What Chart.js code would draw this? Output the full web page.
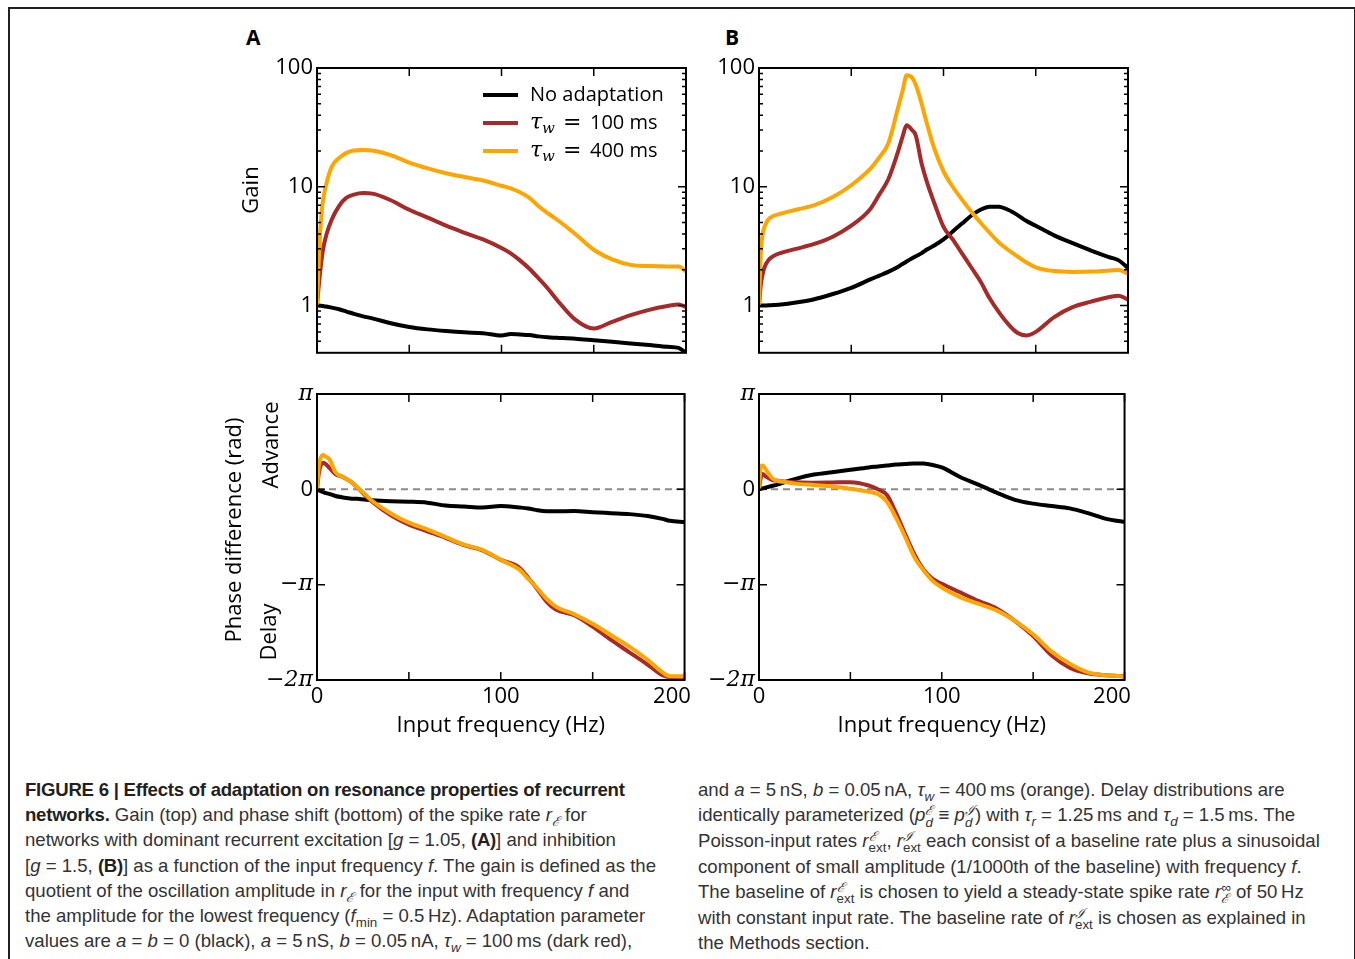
<!DOCTYPE html>
<html>
<head>
<meta charset="utf-8">
<script src="https://cdn.jsdelivr.net/npm/chart.js@4.4.1/dist/chart.umd.min.js"></script>
<style>
body { margin: 0; background: #fff; width: 1355px; height: 959px; overflow: hidden; position: relative; }
#frame { position: absolute; left: 8px; top: 7px; width: 1347px; height: 1000px; box-sizing: border-box;
         border-top: 2px solid #231f20; border-left: 2px solid #231f20; border-right: 1px solid #231f20; }
canvas { position: absolute; }
.panel { position: absolute; font: bold 21px "Open Sans", sans-serif; line-height: 24px; color: #000; }
.cap { position: absolute; top: 777px; font-family: "Liberation Sans Narrow", "Liberation Sans", sans-serif;
       font-size: 18.6px; line-height: 25.2px; color: #333; white-space: nowrap; }
.cap b { color: #231f20; letter-spacing: -0.25px; }
.cap sub, .cap sup { font-size: 0.72em; line-height: 0; }
.st { display: inline-block; vertical-align: -0.4em; font-size: 0.72em; line-height: 0.85; }
</style>
</head>
<body>
<div id="frame"></div>
<div class="panel" style="left:246px;top:25px">A</div>
<div class="panel" style="left:725px;top:25px">B</div>

<canvas id="gainA" width="520" height="330" style="left:200px;top:40px"></canvas>
<canvas id="gainB" width="460" height="330" style="left:700px;top:40px"></canvas>
<canvas id="phaseA" width="520" height="385" style="left:200px;top:375px"></canvas>
<canvas id="phaseB" width="460" height="385" style="left:700px;top:375px"></canvas>

<div class="cap" style="left:25px">
<b>FIGURE 6 | Effects of adaptation on resonance properties of recurrent</b><br>
<b>networks.</b> Gain (top) and phase shift (bottom) of the spike rate <i>r</i><sub><i>ℰ</i></sub> for<br>
networks with dominant recurrent excitation [<i>g</i> = 1.05, <b>(A)</b>] and inhibition<br>
[<i>g</i> = 1.5, <b>(B)</b>] as a function of the input frequency <i>f</i>. The gain is defined as the<br>
quotient of the oscillation amplitude in <i>r</i><sub><i>ℰ</i></sub> for the input with frequency <i>f</i> and<br>
the amplitude for the lowest frequency (<i>f</i><sub>min</sub> = 0.5&#8201;Hz). Adaptation parameter<br>
values are <i>a</i> = <i>b</i> = 0 (black), <i>a</i> = 5&#8201;nS, <i>b</i> = 0.05&#8201;nA, <i>τ</i><sub><i>w</i></sub> = 100&#8201;ms (dark red),
</div>
<div class="cap" style="left:698px">
and <i>a</i> = 5&#8201;nS, <i>b</i> = 0.05&#8201;nA, <i>τ</i><sub><i>w</i></sub> = 400&#8201;ms (orange). Delay distributions are<br>
identically parameterized (<i>p</i><span class="st"><i>ℰ</i><br><i>d</i></span> ≡ <i>p</i><span class="st"><i>ℐ</i><br><i>d</i></span>) with <i>τ</i><sub><i>r</i></sub> = 1.25&#8201;ms and <i>τ</i><sub><i>d</i></sub> = 1.5&#8201;ms. The<br>
Poisson-input rates <i>r</i><span class="st"><i>ℰ</i><br>ext</span>, <i>r</i><span class="st"><i>ℐ</i><br>ext</span> each consist of a baseline rate plus a sinusoidal<br>
component of small amplitude (1/1000th of the baseline) with frequency <i>f</i>.<br>
The baseline of <i>r</i><span class="st"><i>ℰ</i><br>ext</span> is chosen to yield a steady-state spike rate <i>r</i><span class="st">∞<br><i>ℰ</i></span> of 50&#8201;Hz<br>
with constant input rate. The baseline rate of <i>r</i><span class="st"><i>ℐ</i><br>ext</span> is chosen as explained in<br>
the Methods section.
</div>

<script>
var FONT = '"Open Sans", "DejaVu Sans", sans-serif'
var MATH = '"DejaVu Serif", "Liberation Serif", serif'

var black = '#000000'
var darkred = '#a52a2a'
var orange = '#ffa500'
var dashGray = '#8a8a8a'

var seriesLabels = ['No adaptation', 'τw = 100 ms', 'τw = 400 ms']
var xTitle = 'Input frequency (Hz)'
var xTickValues = [0, 50, 100, 150, 200]
var gainTickValues = [1, 10, 100]
var gainMinorTicks = [0.5, 0.6, 0.7, 0.8, 0.9, 2, 3, 4, 5, 6, 7, 8, 9, 20, 30, 40, 50, 60, 70, 80, 90]
// phase is in units of pi
var phaseTickValues = [-2, -1, 0, 1]
var phaseTickText = ['\u22122\u03c0', '\u2212\u03c0', '0', '\u03c0']

// (A) gain
var freqGainA = [0, 1, 2, 3, 5, 8, 12, 16, 20, 25, 30, 40, 50, 60, 70, 80, 90, 100, 105, 110,
                 115, 120, 125, 130, 140, 150, 160, 170, 180, 190, 196, 200]
var gainA_none = [1.0, 1.0, 0.995, 0.99, 0.98, 0.96, 0.93, 0.89, 0.85, 0.81, 0.78, 0.71, 0.66, 0.63, 0.61, 0.595, 0.585, 0.56, 0.575, 0.57,
                  0.565, 0.55, 0.54, 0.535, 0.525, 0.51, 0.495, 0.48, 0.465, 0.45, 0.44, 0.40]
var gainA_100 = [1, 1.5, 2.1, 2.8, 3.9, 5.3, 6.9, 8.1, 8.6, 8.85, 8.75, 7.7, 6.4, 5.5, 4.7, 4.1, 3.6, 3.05, 2.75, 2.4,
                 2.05, 1.7, 1.4, 1.12, 0.76, 0.64, 0.73, 0.83, 0.92, 0.99, 1.02, 0.97]
var gainA_400 = [1, 2.5, 4.8, 7.2, 10.5, 14.8, 17.5, 19.3, 20.2, 20.4, 20.2, 18.5, 16.0, 14.3, 13.0, 12.1, 11.3, 10.2, 9.7, 9.0,
                 8.1, 6.9, 6.0, 5.3, 4.0, 2.95, 2.45, 2.2, 2.15, 2.13, 2.13, 1.94]

// (B) gain
var freqGainB = [0, 1, 2, 3, 5, 8, 12, 20, 30, 40, 50, 60, 65, 70, 75, 78, 80, 83, 85, 88,
                 91, 95, 100, 105, 110, 115, 120, 125, 130, 135, 140, 145, 150, 160, 170, 180, 190, 195, 200]
var gainB_none = [1, 1, 1, 1, 1.005, 1.01, 1.02, 1.06, 1.13, 1.25, 1.41, 1.65, 1.78, 1.92, 2.1, 2.25, 2.35, 2.5, 2.6, 2.75,
                  2.96, 3.2, 3.6, 4.2, 4.9, 5.7, 6.4, 6.8, 6.8, 6.4, 5.8, 5.15, 4.7, 3.9, 3.35, 2.9, 2.55, 2.4, 2.07]
var gainB_100 = [1, 1.5, 1.85, 2.1, 2.4, 2.62, 2.78, 3.0, 3.3, 3.8, 4.7, 6.4, 8.5, 11.5, 19, 27, 33, 30, 27, 16,
                 11, 7.3, 4.6, 3.6, 2.75, 2.1, 1.6, 1.15, 0.88, 0.7, 0.59, 0.56, 0.6, 0.8, 0.97, 1.08, 1.18, 1.21, 1.12]
var gainB_400 = [1, 2.8, 4.0, 4.6, 5.3, 5.7, 5.95, 6.4, 7.0, 8.2, 10.3, 14, 17.5, 23, 44, 66, 87, 83, 72, 51,
                 34, 21, 13.5, 10, 7.8, 6.2, 5.0, 4.1, 3.4, 2.95, 2.6, 2.3, 2.1, 1.95, 1.92, 1.93, 1.97, 1.99, 1.86]

// (A) phase
var freqPhaseA = [0, 1, 2, 3.5, 5, 7, 10, 14, 18, 22, 26, 30, 40, 50, 60, 70, 80, 90, 100, 110,
                  115, 120, 125, 130, 140, 150, 160, 170, 180, 188, 192, 200]
var phaseA_none = [0, -0.01, -0.02, -0.03, -0.04, -0.05, -0.07, -0.085, -0.095, -0.1, -0.108, -0.115, -0.125, -0.13, -0.14, -0.17, -0.18, -0.19, -0.175, -0.19,
                   -0.2, -0.22, -0.23, -0.23, -0.228, -0.24, -0.25, -0.26, -0.28, -0.31, -0.33, -0.343]
var phaseA_100 = [0, 0.17, 0.25, 0.28, 0.26, 0.22, 0.16, 0.13, 0.085, 0.02, -0.06, -0.13, -0.27, -0.37, -0.44, -0.51, -0.585, -0.64, -0.74, -0.82,
                  -0.93, -1.05, -1.18, -1.26, -1.32, -1.44, -1.58, -1.71, -1.84, -1.95, -1.97, -1.97]
var phaseA_400 = [0, 0.25, 0.33, 0.36, 0.34, 0.31, 0.18, 0.13, 0.085, 0.02, -0.05, -0.12, -0.25, -0.35, -0.42, -0.50, -0.58, -0.635, -0.74, -0.84,
                  -0.94, -1.04, -1.15, -1.23, -1.31, -1.41, -1.53, -1.65, -1.79, -1.92, -1.96, -1.96]

// (B) phase
var freqPhaseB = [0, 1, 2, 4, 7, 10, 15, 20, 30, 40, 50, 60, 65, 70, 75, 80, 85, 90, 95, 100,
                  110, 120, 130, 140, 150, 160, 170, 180, 190, 200]
var phaseB_none = [0, 0.005, 0.01, 0.02, 0.035, 0.05, 0.08, 0.11, 0.155, 0.18, 0.205, 0.23, 0.24, 0.25, 0.26, 0.265, 0.272, 0.27, 0.255, 0.23,
                   0.13, 0.05, -0.035, -0.11, -0.15, -0.175, -0.2, -0.25, -0.31, -0.343]
var phaseB_100 = [0, 0.12, 0.16, 0.13, 0.1, 0.09, 0.08, 0.075, 0.07, 0.072, 0.075, 0.04, 0.0, -0.06, -0.25, -0.47, -0.68, -0.84, -0.94, -0.99,
                  -1.08, -1.17, -1.25, -1.38, -1.54, -1.74, -1.87, -1.93, -1.95, -1.96]
var phaseB_400 = [0, 0.24, 0.25, 0.2, 0.12, 0.09, 0.075, 0.06, 0.045, 0.03, 0.007, -0.025, -0.05, -0.13, -0.3, -0.5, -0.71, -0.85, -0.96, -1.03,
                  -1.13, -1.2, -1.27, -1.38, -1.52, -1.7, -1.83, -1.92, -1.95, -1.96]

var zeroLineX = [0, 200]
var zeroLineY = [0, 0]

Chart.defaults.font.family = FONT
Chart.defaults.color = '#000'

function pts(xs, ys) {
    var out = []
    for (var i = 0; i < xs.length; i++) {
        out.push({x: xs[i], y: ys[i]})
    }
    return out
}

function curve(label, color, xs, ys, order) {
    return {
        label: label,
        data: pts(xs, ys),
        borderColor: color,
        borderWidth: 4,
        borderJoinStyle: 'round',
        pointRadius: 0,
        cubicInterpolationMode: 'monotone',
        fill: false,
        order: order
    }
}

function zeroLine() {
    return {
        label: '',
        data: pts(zeroLineX, zeroLineY),
        borderColor: dashGray,
        borderWidth: 2,
        borderDash: [7, 5],
        pointRadius: 0,
        fill: false,
        order: 5
    }
}

// box around the axes with matplotlib style inward ticks
var frameTicks = {
    id: 'frameTicks',
    afterDatasetsDraw: function(chart, args, opts) {
        var ctx = chart.ctx
        var a = chart.chartArea
        var xs = chart.scales.x
        var ys = chart.scales.y
        var minor = opts.yMinor || []
        ctx.save()
        ctx.strokeStyle = '#000'
        ctx.lineWidth = 1.5
        ctx.beginPath()
        xTickValues.forEach(function(v) {
            var px = xs.getPixelForValue(v)
            ctx.moveTo(px, a.bottom)
            ctx.lineTo(px, a.bottom - 8)
            ctx.moveTo(px, a.top)
            ctx.lineTo(px, a.top + 8)
        })
        opts.yMajor.forEach(function(v) {
            var py = ys.getPixelForValue(v)
            ctx.moveTo(a.left, py)
            ctx.lineTo(a.left + 8, py)
            ctx.moveTo(a.right, py)
            ctx.lineTo(a.right - 8, py)
        })
        minor.forEach(function(v) {
            var py = ys.getPixelForValue(v)
            ctx.moveTo(a.left, py)
            ctx.lineTo(a.left + 4, py)
            ctx.moveTo(a.right, py)
            ctx.lineTo(a.right - 4, py)
        })
        ctx.stroke()
        ctx.lineWidth = 2
        ctx.strokeRect(a.left, a.top, a.right - a.left, a.bottom - a.top)
        ctx.restore()
    }
}

// rotated axis labels (Gain, Phase difference, Advance / Delay)
var sideText = {
    id: 'sideText',
    afterDraw: function(chart, args, opts) {
        var ctx = chart.ctx
        ctx.save()
        ctx.fillStyle = '#000'
        ctx.textAlign = 'center'
        ctx.textBaseline = 'middle'
        ctx.font = '22px ' + FONT
        opts.items.forEach(function(it) {
            ctx.save()
            ctx.translate(it.x, it.y)
            ctx.rotate(-Math.PI / 2)
            ctx.fillText(it.text, 0, 0)
            ctx.restore()
        })
        ctx.restore()
    }
}

var sketchLegend = {
    id: 'sketchLegend',
    afterDraw: function(chart, args, opts) {
        if (!opts.show) return
        var ctx = chart.ctx
        ctx.save()
        ctx.textBaseline = 'middle'
        ctx.fillStyle = '#000'
        for (var i = 0; i < seriesLabels.length; i++) {
            var ds = chart.data.datasets.filter(function(d) { return d.label == seriesLabels[i] })[0]
            var y = opts.y + i * opts.step
            ctx.strokeStyle = ds.borderColor
            ctx.lineWidth = 4
            ctx.beginPath()
            ctx.moveTo(opts.x, y)
            ctx.lineTo(opts.x + 35, y)
            ctx.stroke()
            var tx = opts.x + 47
            if (ds.label.indexOf('τw') == 0) {
                ctx.font = 'italic 22px ' + MATH
                ctx.fillText('τ', tx, y)
                ctx.font = 'italic 15px ' + MATH
                ctx.fillText('w', tx + 12, y + 6)
                ctx.font = '22px ' + MATH
                ctx.fillText('=', tx + 33, y)
                ctx.font = '20px ' + FONT
                ctx.fillText(ds.label.split('= ')[1], tx + 60, y)
            } else {
                ctx.font = '20px ' + FONT
                ctx.fillText(ds.label, tx, y)
            }
        }
        ctx.restore()
    }
}

function gainAxis(width) {
    return {
        type: 'logarithmic', min: 0.4, max: 100,
        grid: {display: false, drawTicks: false},
        border: {display: false},
        afterBuildTicks: function(s) { s.ticks = gainTickValues.map(function(v) { return {value: v} }) },
        afterFit: function(s) { s.width = width },
        ticks: {padding: 4, font: {size: 22}, color: '#000', callback: function(v) { return String(v) }}
    }
}

function phaseAxis(width) {
    return {
        type: 'linear', min: -2, max: 1,
        grid: {display: false, drawTicks: false},
        border: {display: false},
        afterBuildTicks: function(s) { s.ticks = phaseTickValues.map(function(v) { return {value: v} }) },
        afterFit: function(s) { s.width = width },
        ticks: {
            padding: 4, color: '#000',
            font: function(c) {
                if (c.tick && c.tick.value == 0) return {family: FONT, size: 22}
                return {family: MATH, size: 22, style: 'italic'}
            },
            callback: function(v) { return phaseTickText[phaseTickValues.indexOf(v)] }
        }
    }
}

// the last x label sits a little inside the axis end, as in the original
function xLabel(v) {
    if (v % 100 != 0) return ''
    if (v == 200) return '200\u2007\u2007'
    return String(v)
}

function makePanel(id, datasets, cfg) {
    return new Chart(document.getElementById(id), {
        type: 'line',
        data: {datasets: datasets},
        options: {
            responsive: false,
            animation: false,
            devicePixelRatio: 1,
            layout: {padding: cfg.padding},
            plugins: {
                legend: {display: false},
                tooltip: {enabled: false},
                frameTicks: {yMajor: cfg.yMajor, yMinor: cfg.yMinor},
                sideText: {items: cfg.side || []},
                sketchLegend: cfg.legend || {show: false}
            },
            scales: {
                x: {
                    type: 'linear', min: 0, max: 200,
                    grid: {display: false, drawTicks: false},
                    border: {display: false},
                    afterBuildTicks: function(s) { s.ticks = xTickValues.map(function(v) { return {value: v} }) },
                    afterFit: function(s) { s.height = cfg.xHeight },
                    ticks: {
                        display: cfg.xLabels, autoSkip: false, maxRotation: 0, padding: 4,
                        font: {size: 22}, color: '#000',
                        callback: xLabel
                    },
                    title: {display: cfg.xLabels, text: xTitle, font: {size: 22}, color: '#000', padding: {top: 0, bottom: 21}}
                },
                y: cfg.y
            }
        },
        plugins: [frameTicks, sideText, sketchLegend]
    })
}

window.onload = function() {
    makePanel('gainA', [
        curve(seriesLabels[0], black, freqGainA, gainA_none, 3),
        curve(seriesLabels[1], darkred, freqGainA, gainA_100, 2),
        curve(seriesLabels[2], orange, freqGainA, gainA_400, 1)
    ], {
        padding: {left: 0, top: 28, right: 34, bottom: 17},
        xHeight: 0, xLabels: false,
        y: gainAxis(117),
        yMajor: gainTickValues, yMinor: gainMinorTicks,
        side: [{text: 'Gain', x: 52, y: 150}],
        legend: {show: true, x: 283, y: 55, step: 28}
    })
    makePanel('gainB', [
        curve(seriesLabels[0], black, freqGainB, gainB_none, 3),
        curve(seriesLabels[1], darkred, freqGainB, gainB_100, 2),
        curve(seriesLabels[2], orange, freqGainB, gainB_400, 1)
    ], {
        padding: {left: 0, top: 28, right: 32, bottom: 17},
        xHeight: 0, xLabels: false,
        y: gainAxis(59),
        yMajor: gainTickValues, yMinor: gainMinorTicks
    })
    makePanel('phaseA', [
        zeroLine(),
        curve(seriesLabels[0], black, freqPhaseA, phaseA_none, 3),
        curve(seriesLabels[1], darkred, freqPhaseA, phaseA_100, 2),
        curve(seriesLabels[2], orange, freqPhaseA, phaseA_400, 1)
    ], {
        padding: {left: 0, top: 19, right: 34, bottom: 0},
        xHeight: 80, xLabels: true,
        y: phaseAxis(117),
        yMajor: phaseTickValues,
        side: [
            {text: 'Phase difference (rad)', x: 35, y: 155},
            {text: 'Advance', x: 72, y: 70},
            {text: 'Delay', x: 70, y: 257}
        ]
    })
    makePanel('phaseB', [
        zeroLine(),
        curve(seriesLabels[0], black, freqPhaseB, phaseB_none, 3),
        curve(seriesLabels[1], darkred, freqPhaseB, phaseB_100, 2),
        curve(seriesLabels[2], orange, freqPhaseB, phaseB_400, 1)
    ], {
        padding: {left: 0, top: 19, right: 32, bottom: 0},
        xHeight: 80, xLabels: true,
        y: phaseAxis(59),
        yMajor: phaseTickValues
    })
}
</script>
</body>
</html>
